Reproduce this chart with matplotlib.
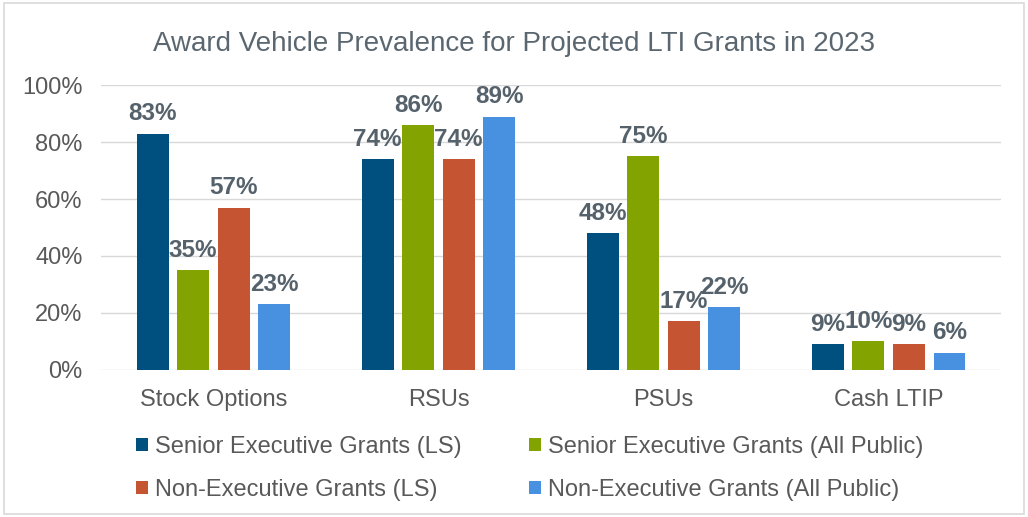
import numpy as np
import matplotlib.pyplot as plt
from matplotlib.patches import Rectangle

categories = ["Stock Options", "RSUs", "PSUs", "Cash LTIP"]
series_names = [
    "Senior Executive Grants (LS)",
    "Senior Executive Grants (All Public)",
    "Non-Executive Grants (LS)",
    "Non-Executive Grants (All Public)",
]
senior_ls = [83, 74, 48, 9]
senior_all = [35, 86, 75, 10]
nonexec_ls = [57, 74, 17, 9]
nonexec_all = [23, 89, 22, 6]
series_values = [senior_ls, senior_all, nonexec_ls, nonexec_all]
colors = ["#00507F", "#82A300", "#C55433", "#4791E0"]

plt.rcParams['font.family'] = ['Liberation Sans', 'DejaVu Sans']
text_gray = "#595959"
label_gray = "#56626B"

fig = plt.figure(figsize=(10.28, 5.17), dpi=100)
ax = fig.add_axes([0.098, 0.285, 0.876, 0.55])

x = np.arange(len(categories))
pitch = 0.18
width = 0.142
handles = []
for i, (name, vals, c) in enumerate(zip(series_names, series_values, colors)):
    pos = x + (i - 1.5) * pitch
    bars = ax.bar(pos, vals, width, color=c, label=name, zorder=3)
    handles.append(bars)
    for b, v in zip(bars, vals):
        ax.text(b.get_x() + b.get_width() / 2, v + 3, f"{v}%", ha='center', va='bottom',
                fontsize=17.5, fontweight='bold', color=label_gray)

ax.set_xlim(-0.5, 3.5)
ax.set_ylim(0, 100)
ax.set_yticks(range(0, 101, 20))
ax.set_yticklabels([f"{t}%" for t in range(0, 101, 20)])
ax.set_xticks(x)
ax.set_xticklabels(categories)
ax.tick_params(axis='both', length=0, labelsize=17, colors=text_gray)
ax.tick_params(axis='y', pad=13)
ax.tick_params(axis='x', pad=14)
ax.grid(axis='y', color='#D9D9D9', linewidth=1, zorder=0)
for s in ax.spines.values():
    s.set_visible(False)

fig.text(0.5, 0.915, "Award Vehicle Prevalence for Projected LTI Grants in 2023",
         ha='center', va='center', fontsize=20, color="#5B6770")

# matplotlib fills legend columns first, so reorder to read row by row
order = [0, 2, 1, 3]
fig.legend([handles[k] for k in order], [series_names[k] for k in order],
           loc='lower left', bbox_to_anchor=(0.112, -0.01), ncol=2, frameon=False,
           fontsize=17, labelcolor=text_gray, handlelength=0.5, handleheight=0.5,
           handletextpad=0.3, columnspacing=2.85, labelspacing=0.9)

fig.patches.append(Rectangle((0.004, 0.006), 0.992, 0.988, transform=fig.transFigure,
                             fill=False, edgecolor='#D9D9D9', linewidth=1.2))

fig.savefig("out.png", dpi=100, facecolor='white')
